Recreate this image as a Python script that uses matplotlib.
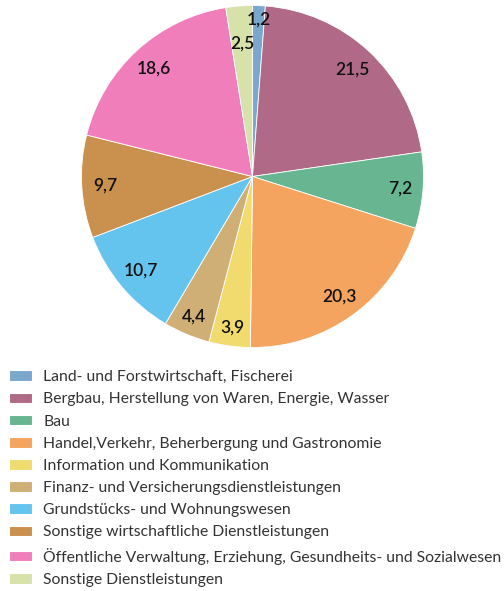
import numpy as np
import matplotlib.pyplot as plt

plt.rcParams['font.family'] = ['Lato', 'DejaVu Sans']

categories = [
    "Land- und Forstwirtschaft, Fischerei",
    "Bergbau, Herstellung von Waren, Energie, Wasser",
    "Bau",
    "Handel,Verkehr, Beherbergung und Gastronomie",
    "Information und Kommunikation",
    "Finanz- und Versicherungsdienstleistungen",
    "Grundstücks- und Wohnungswesen",
    "Sonstige wirtschaftliche Dienstleistungen",
    "Öffentliche Verwaltung, Erziehung, Gesundheits- und Sozialwesen",
    "Sonstige Dienstleistungen",
]
values = [1.2, 21.5, 7.2, 20.3, 3.9, 4.4, 10.7, 9.7, 18.6, 2.5]
value_labels = ["1,2", "21,5", "7,2", "20,3", "3,9", "4,4", "10,7", "9,7", "18,6", "2,5"]
colors = ["#7BA7CC", "#B06A87", "#67B591", "#F4A45E", "#F2DB6E",
          "#CFAF75", "#65C4EE", "#C9904E", "#F07EBB", "#D6E2AA"]
# radial position of each value label (fraction of radius)
label_r = [0.92, 0.855, 0.867, 0.867, 0.89, 0.89, 0.85, 0.865, 0.857, 0.78]

W, H = 504, 591
fig = plt.figure(figsize=(W / 100, H / 100), dpi=100)

cx, cy, r = 252.5, 176.5, 171
ax = fig.add_axes([(cx - r) / W, (H - cy - r) / H, 2 * r / W, 2 * r / H])
wedges, _ = ax.pie(values, colors=colors, startangle=90, counterclock=False,
                   wedgeprops=dict(edgecolor="white", linewidth=0.6))
for w, lab, lr in zip(wedges, value_labels, label_r):
    ang = np.deg2rad((w.theta1 + w.theta2) / 2)
    ax.text(lr * np.cos(ang), lr * np.sin(ang), lab, ha="center", va="center",
            fontsize=12.5, fontweight="semibold", color="#111111")
ax.set_xlim(-1, 1)
ax.set_ylim(-1, 1)
ax.set_aspect("equal")
ax.axis("off")

leg = fig.legend(wedges, categories, loc="upper left",
                 bbox_to_anchor=(3 / W, 1 - 364 / H), frameon=False,
                 fontsize=11.3, handlelength=1.45, handleheight=0.68,
                 handletextpad=0.73, labelspacing=0.52, borderaxespad=0,
                 labelcolor="#333333")
for h in leg.legend_handles:
    h.set_edgecolor("#ffffff")
    h.set_linewidth(0.8)

fig.savefig("out.png", dpi=100)
